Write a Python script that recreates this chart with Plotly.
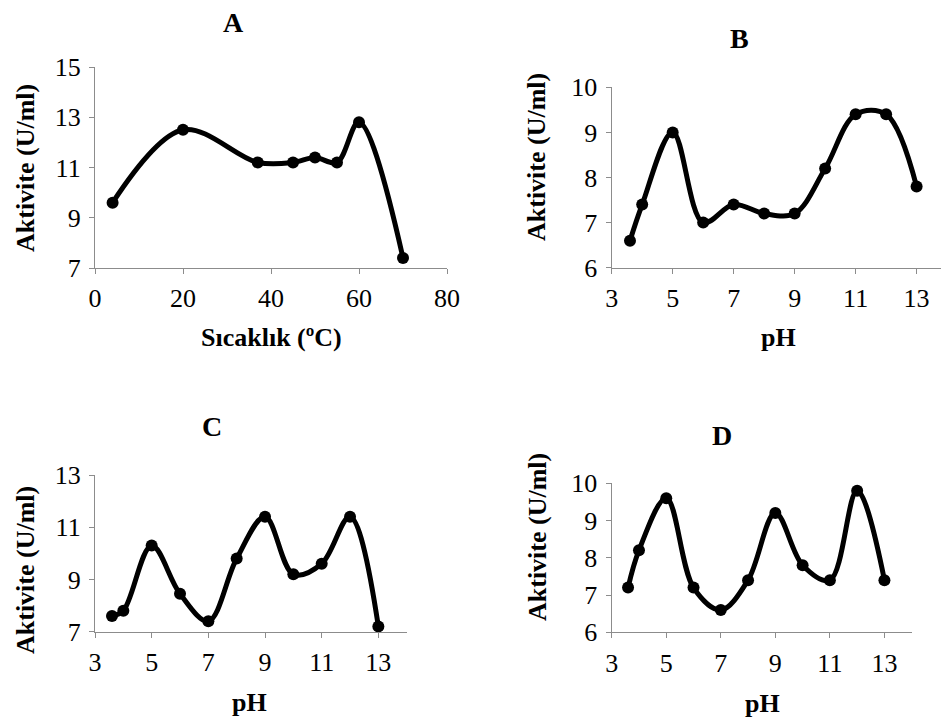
import plotly.graph_objects as go

# ---- data ----
temp_A = [4, 20, 37, 45, 50, 55, 60, 70]
act_A = [9.6, 12.5, 11.2, 11.2, 11.4, 11.2, 12.8, 7.4]

ph_B = [3.6, 4, 5, 6, 7, 8, 9, 10, 11, 12, 13]
act_B = [6.6, 7.4, 9.0, 7.0, 7.4, 7.2, 7.2, 8.2, 9.4, 9.4, 7.8]

ph_C = [3.6, 4, 5, 6, 7, 8, 9, 10, 11, 12, 13]
act_C = [7.6, 7.8, 10.3, 8.45, 7.4, 9.8, 11.4, 9.2, 9.6, 11.4, 7.2]

ph_D = [3.6, 4, 5, 6, 7, 8, 9, 10, 11, 12, 13]
act_D = [7.2, 8.2, 9.6, 7.2, 6.6, 7.4, 9.2, 7.8, 7.4, 9.8, 7.4]

ticks_A_x = [0, 20, 40, 60, 80]
ticks_A_y = [7, 9, 11, 13, 15]
ticks_pH = [3, 5, 7, 9, 11, 13]
ticks_B_y = [6, 7, 8, 9, 10]
ticks_C_y = [7, 9, 11, 13]
ticks_D_y = [6, 7, 8, 9, 10]

W, H = 941, 725
FONT = "Times New Roman, Liberation Serif, DejaVu Serif, serif"

def px_x(a, b):
    return [a / W, b / W]

def px_y(top, bottom):
    return [1 - bottom / H, 1 - top / H]

panels = [
    ("A", temp_A, act_A, [0, 80], [7, 15], ticks_A_x, ticks_A_y, (95, 447), (67, 268)),
    ("B", ph_B, act_B, [3, 13.8], [6, 10], ticks_pH, ticks_B_y, (611.7, 941), (87.3, 267.7)),
    ("C", ph_C, act_C, [3, 14], [7, 13], ticks_pH, ticks_C_y, (95, 406.7), (475, 631.7)),
    ("D", ph_D, act_D, [3, 14], [6, 10], ticks_pH, ticks_D_y, (611.7, 911.7), (483.3, 632.3)),
]

fig = go.Figure()
layout = {}
for i, (name, xs, ys, xr, yr, xt, yt, xp, yp) in enumerate(panels):
    n = "" if i == 0 else str(i + 1)
    fig.add_trace(go.Scatter(
        x=xs, y=ys, mode="lines+markers",
        line=dict(color="black", width=5, shape="spline", smoothing=1),
        marker=dict(color="black", size=12),
        xaxis="x" + n, yaxis="y" + n, showlegend=False, cliponaxis=False,
    ))
    common = dict(showgrid=False, zeroline=False, showline=True, linecolor="#8c8c8c",
                  linewidth=1.3, ticks="outside", ticklen=5, tickcolor="#8c8c8c",
                  tickwidth=1.3, automargin=False,
                  tickfont=dict(family=FONT, size=26, color="black"))
    layout["xaxis" + n] = dict(domain=px_x(*xp), range=xr, tickvals=xt,
                               anchor="y" + n, ticklabelstandoff=2, **common)
    layout["yaxis" + n] = dict(domain=px_y(*yp), range=yr, tickvals=yt,
                               anchor="x" + n, ticklabelstandoff=3, **common)

fig.update_layout(**layout)

annotations = []
titles = [("A", 233, 22), ("B", 739, 39), ("C", 212, 426), ("D", 722, 435)]
for t, x, y in titles:
    annotations.append(dict(text="<b>%s</b>" % t, x=x / W, y=1 - y / H, xref="paper",
                            yref="paper", showarrow=False, xanchor="center", yanchor="middle",
                            font=dict(family=FONT, size=28, color="black")))
xtitles = [("Sıcaklık (ºC)", 271, 338), ("pH", 778, 338), ("pH", 250, 702), ("pH", 762, 703)]
for t, x, y in xtitles:
    annotations.append(dict(text="<b>%s</b>" % t, x=x / W, y=1 - y / H, xref="paper",
                            yref="paper", showarrow=False, xanchor="center", yanchor="middle",
                            font=dict(family=FONT, size=26, color="black")))
ytitles = [(25, 168), (537, 157), (25, 570), (537, 537)]
for x, y in ytitles:
    annotations.append(dict(text="<b>Aktivite (U/ml)</b>", x=x / W, y=1 - y / H, xref="paper",
                            yref="paper", showarrow=False, xanchor="center", yanchor="middle",
                            textangle=-90, font=dict(family=FONT, size=26, color="black")))

fig.update_layout(
    width=W, height=H, margin=dict(l=0, r=0, t=0, b=0, pad=0, autoexpand=False),
    autosize=False,
    paper_bgcolor="white", plot_bgcolor="white",
    font=dict(family=FONT),
    annotations=annotations,
)

fig.write_html("out.html")
